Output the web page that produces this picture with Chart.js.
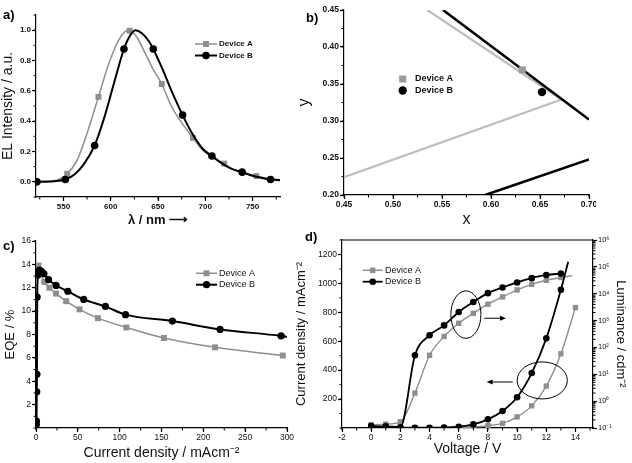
<!DOCTYPE html>
<html>
<head>
<meta charset="utf-8">
<script src="https://cdn.jsdelivr.net/npm/chart.js@4.4.1/dist/chart.umd.min.js"></script>
<style>
  html, body { margin: 0; padding: 0; background: #fff; }
  #fig { position: relative; width: 632px; height: 463px; overflow: hidden; }
  #fig canvas { position: absolute; }
</style>
</head>
<body>
<div id="fig">
  <canvas id="pa" width="316" height="231" style="left:0px;top:0px"></canvas>
  <canvas id="pb" width="306" height="231" style="left:290px;top:0px"></canvas>
  <canvas id="pc" width="316" height="232" style="left:0px;top:231px"></canvas>
  <canvas id="pd" width="342" height="232" style="left:290px;top:231px"></canvas>
</div>
<script>
const names = ['Device A', 'Device B'];

// ---- a) EL spectra: smooth curves + the marked points on them ----
const aTicksX = [550, 600, 650, 700, 750];
const aTicksY = [0, 0.2, 0.4, 0.6, 0.8, 1.0];
const aCurveA_nm = [521, 540, 554, 565, 575, 587, 598, 608, 615, 620, 628, 637, 645, 654, 664, 675, 687, 697, 708, 720, 730, 742, 754, 766, 779];
const aCurveA_I  = [0.003, 0.008, 0.053, 0.15, 0.32, 0.56, 0.78, 0.93, 0.99, 1.0, 0.95, 0.84, 0.74, 0.645, 0.5, 0.39, 0.29, 0.21, 0.16, 0.12, 0.08, 0.055, 0.038, 0.022, 0.015];
const aCurveB_nm = [521, 540, 552, 562, 572, 583, 593, 603, 614, 620, 626, 633, 640, 645, 655, 665, 676, 686, 697, 707, 718, 728, 739, 750, 760, 769, 779];
const aCurveB_I  = [0.0, 0.004, 0.015, 0.05, 0.12, 0.24, 0.42, 0.64, 0.876, 0.96, 1.0, 0.98, 0.93, 0.876, 0.74, 0.59, 0.44, 0.32, 0.22, 0.17, 0.12, 0.085, 0.064, 0.04, 0.025, 0.015, 0.01];
const aDotA_nm = [554, 587, 620, 654, 687, 720, 754];
const aDotA_I  = [0.053, 0.56, 0.996, 0.645, 0.29, 0.12, 0.038];
const aDotB_nm = [522, 552, 583, 614, 645, 676, 707, 739, 769];
const aDotB_I  = [0.0, 0.015, 0.24, 0.876, 0.876, 0.44, 0.17, 0.064, 0.015];

// ---- b) CIE chromaticity detail ----
const bTicksX = [0.45, 0.50, 0.55, 0.60, 0.65, 0.70];
const bTicksY = [0.20, 0.25, 0.30, 0.35, 0.40, 0.45];
const bLocus_x = [0.551, 0.70],  bLocus_y = [0.45, 0.302];
const bPurple_x = [0.594, 0.70], bPurple_y = [0.20, 0.248];
const bGamut_x = [0.535, 0.672, 0.45], bGamut_y = [0.45, 0.329, 0.224];
const bDevA_x = [0.632], bDevA_y = [0.369];
const bDevB_x = [0.652], bDevB_y = [0.339];

// ---- c) EQE vs current density ----
const cTicksX = [0, 50, 100, 150, 200, 250, 300];
const cTicksY = [2, 4, 6, 8, 10, 12, 14, 16];
const cA_J   = [3, 6, 10, 16, 24, 36, 52, 74, 108, 153, 214, 295];
const cA_EQE = [13.9, 13.2, 12.5, 12.0, 11.5, 10.85, 10.15, 9.4, 8.6, 7.7, 6.9, 6.2];
const cB_J   = [0.4, 0.6, 0.9, 1.1, 1.4, 2.5, 4, 6.5, 9.5, 15, 24, 38, 57, 83, 107, 163, 220, 293];
const cB_EQE = [0.3, 0.6, 3.1, 4.6, 11.2, 13.1, 13.5, 13.4, 13.2, 12.7, 12.2, 11.7, 11.0, 10.4, 9.7, 9.15, 8.43, 7.88];
const cB_endJ = [300], cB_endEQE = [7.8];

// ---- d) J-V-L ----
const dTicksX = [-2, 0, 2, 4, 6, 8, 10, 12, 14];
const dTicksJ = [200, 400, 600, 800, 1000, 1200];
const dTicksL = [0.1, 1, 10, 100, 1e3, 1e4, 1e5, 1e6];
const dA_V = [0, 1, 2, 3, 4, 5, 6, 7, 8, 9, 10, 11, 12, 13, 14];
const dA_J = [2, 2, 2, 2, 2, 3, 4, 7, 16, 32, 77, 153, 290, 513, 833];
const dB_V = [0, 1, 2, 3, 4, 5, 6, 7, 8, 9, 10, 11, 12, 13];
const dB_J = [2, 2, 2, 2, 2, 3, 9, 25, 60, 118, 213, 380, 620, 956];
const dB_endV = [13.5], dB_endJ = [1150];
const dA_L = [0.13, 0.14, 0.17, 2.0, 51, 257, 794, 1860, 4070, 7600, 13800, 22400, 31600, 40000];
const dA_endV = [13.8], dA_endL = [47000];
const dB_L = [0.12, 0.115, 0.107, 51, 282, 660, 2090, 4900, 10500, 17000, 26300, 38000, 50000, 56000];

const GREY = '#8e8e8e';
const FONT = "'Liberation Sans', Arial, sans-serif";
const xy = (xs, ys) => xs.map((x, i) => ({ x: x, y: ys[i] }));
const sup = { '-': '⁻', '0': '⁰', '1': '¹', '2': '²', '3': '³', '4': '⁴', '5': '⁵', '6': '⁶', '7': '⁷', '8': '⁸', '9': '⁹' };

function marker(c, style, x, y, r, color) {
    c.fillStyle = color;
    c.beginPath();
    if (style === 'rect') {
        const h = r * Math.SQRT1_2;
        c.rect(x - h, y - h, 2 * h, 2 * h);
    } else {
        c.arc(x, y, r, 0, Math.PI * 2);
    }
    c.fill();
}

// minor ticks, panel letter, legend, ellipses and arrows
const deco = {
    id: 'deco',
    afterDraw(chart, args, o) {
        const c = chart.ctx;
        const area = chart.chartArea;
        c.save();
        c.strokeStyle = '#000';
        c.lineWidth = 1;
        Object.values(chart.scales).forEach(s => {
            const m = s.options.minor;
            if (!m) return;
            const vals = [];
            if (m === 'log') {
                const e0 = Math.round(Math.log10(s.min)), e1 = Math.round(Math.log10(s.max));
                for (let e = e0; e < e1; e++) for (let k = 2; k < 10; k++) vals.push(k * Math.pow(10, e));
            } else {
                for (let n = Math.ceil(s.min / m - 1e-6); n * m <= s.max + 1e-9; n++) vals.push(n * m);
            }
            c.beginPath();
            vals.forEach(v => {
                const p = s.getPixelForValue(v);
                if (s.isHorizontal()) { c.moveTo(p, s.top); c.lineTo(p, s.top + 2.5); }
                else if (s.position === 'left') { c.moveTo(s.right, p); c.lineTo(s.right - 2.5, p); }
                else { c.moveTo(s.left, p); c.lineTo(s.left + 2.5, p); }
            });
            c.stroke();
        });
        if (o.frame) {
            c.lineWidth = 1.2;
            c.beginPath();
            c.moveTo(area.left, area.top);
            c.lineTo(area.right, area.top);
            c.stroke();
        }
        if (o.ann) {
            const sx = chart.scales.x, sy = chart.scales.y;
            c.lineWidth = 1;
            o.ann.ellipses.forEach(e => {
                const cx = sx.getPixelForValue(e[0]), cy = sy.getPixelForValue(e[1]);
                const rx = Math.abs(sx.getPixelForValue(e[0] + e[2]) - cx);
                const ry = Math.abs(sy.getPixelForValue(e[1] + e[3]) - cy);
                c.beginPath();
                c.ellipse(cx, cy, rx, ry, 0, 0, Math.PI * 2);
                c.stroke();
            });
            o.ann.arrows.forEach(a => {
                const x1 = sx.getPixelForValue(a[0]), y1 = sy.getPixelForValue(a[1]);
                const x2 = sx.getPixelForValue(a[2]), y2 = sy.getPixelForValue(a[1]);
                const d = Math.sign(x2 - x1);
                c.beginPath();
                c.moveTo(x1, y1);
                c.lineTo(x2 - d * 4, y2);
                c.stroke();
                c.fillStyle = '#000';
                c.beginPath();
                c.moveTo(x2, y2);
                c.lineTo(x2 - d * 6, y2 - 2.5);
                c.lineTo(x2 - d * 6, y2 + 2.5);
                c.closePath();
                c.fill();
            });
        }
        if (o.letter) {
            c.fillStyle = '#000';
            c.font = 'bold 13px ' + FONT;
            c.textBaseline = 'middle';
            c.textAlign = 'left';
            c.fillText(o.letter[0], o.letter[1], o.letter[2]);
        }
        if (o.legend) {
            const L = o.legend;
            L.items.forEach((it, i) => {
                const y = L.y + i * L.dy;
                if (L.x2 > L.x1) {
                    c.strokeStyle = it.color;
                    c.lineWidth = it.w;
                    c.beginPath();
                    c.moveTo(L.x1, y);
                    c.lineTo(L.x2, y);
                    c.stroke();
                }
                marker(c, it.style, (L.x1 + L.x2) / 2, y, it.r, it.color);
                c.fillStyle = '#111';
                c.font = L.font;
                c.textBaseline = 'middle';
                c.textAlign = 'left';
                c.fillText(it.text, L.tx, y);
            });
        }
        c.restore();
    }
};
Chart.register(deco);

function axis(o) {
    const horiz = o.pos === 'bottom';
    return {
        type: o.log ? 'logarithmic' : 'linear',
        position: o.pos,
        min: o.min,
        max: o.max,
        minor: o.minor,
        border: { display: true, color: '#000', width: 1.2 },
        grid: { display: true, drawOnChartArea: false, drawTicks: true, tickLength: 4, tickColor: '#000', tickWidth: 1.2 },
        ticks: { color: '#111', padding: o.tp == null ? 1 : o.tp, autoSkip: false, maxRotation: 0, font: o.font, callback: o.fmt },
        title: { display: !!o.title, text: o.title, color: '#111', font: o.tfont, padding: o.tpad || 0 },
        afterBuildTicks: s => { s.ticks = o.ticks.map(v => ({ value: v })); },
        afterFit: s => {
            if (horiz) { s.height = o.size; s.paddingLeft = 0; s.paddingRight = 0; }
            else { s.width = o.size; s.paddingTop = 0; s.paddingBottom = 0; }
        }
    };
}

function curve(data, color, w, yAxis) {
    return { data: data, borderColor: color, borderWidth: w, pointRadius: 0, tension: 0.4,
             cubicInterpolationMode: 'monotone', fill: false, yAxisID: yAxis || 'y' };
}
function dots(data, color, style, r, line, w, yAxis, radii) {
    return { data: data, showLine: line, borderColor: color, borderWidth: w || 0, pointStyle: style,
             pointRadius: radii || r, pointBackgroundColor: color, pointBorderWidth: 0,
             tension: 0.4, cubicInterpolationMode: 'monotone', fill: false, yAxisID: yAxis || 'y' };
}

function base(pad, scales, decoOpts) {
    return {
        responsive: false,
        animation: false,
        events: [],
        layout: { padding: pad },
        plugins: { legend: { display: false }, tooltip: { enabled: false }, deco: decoOpts },
        scales: scales
    };
}

const fA = { family: FONT, size: 8, weight: 'bold' };
const fB = { family: FONT, size: 8.5, weight: 'bold' };
const fC = { family: FONT, size: 8.5 };

// a)
new Chart(document.getElementById('pa'), {
    type: 'line',
    data: { datasets: [
        curve(xy(aCurveB_nm, aCurveB_I), '#000', 2),
        dots(xy(aDotB_nm, aDotB_I), '#000', 'circle', 3.8, false),
        curve(xy(aCurveA_nm, aCurveA_I), GREY, 1.5),
        dots(xy(aDotA_nm, aDotA_I), GREY, 'rect', 4.2, false)
    ] },
    options: base({ left: 0, top: 15, right: 36, bottom: 0 }, {
        x: axis({ pos: 'bottom', min: 521, max: 779, ticks: aTicksX, minor: 25, font: fA, size: 34,
                  title: 'λ / nm ⟶', tfont: { family: FONT, size: 13, weight: 'bold' }, tpad: 3 }),
        y: axis({ pos: 'left', min: -0.1, max: 1.1, ticks: aTicksY, minor: 0.1, font: fA, size: 36,
                  fmt: v => v.toFixed(1), title: 'EL Intensity / a.u.', tfont: { family: FONT, size: 14 }, tpad: 0 })
    }, {
        letter: ['a)', 3, 15],
        legend: { x1: 195, x2: 217, tx: 219, y: 44, dy: 11.5, font: 'bold 8px ' + FONT, items: [
            { text: names[0], color: GREY, style: 'rect', r: 4.2, w: 1.5 },
            { text: names[1], color: '#000', style: 'circle', r: 3.8, w: 2 }
        ] }
    })
});

// b)
new Chart(document.getElementById('pb'), {
    type: 'line',
    data: { datasets: [
        dots(xy(bDevB_x, bDevB_y), '#000', 'circle', 4.2, false),
        dots(xy(bDevA_x, bDevA_y), '#9a9a9a', 'rect', 5, false),
        { data: xy(bLocus_x, bLocus_y), borderColor: '#000', borderWidth: 2.6, pointRadius: 0, tension: 0 },
        { data: xy(bPurple_x, bPurple_y), borderColor: '#000', borderWidth: 2.6, pointRadius: 0, tension: 0 },
        { data: xy(bGamut_x, bGamut_y), borderColor: '#bdbdbd', borderWidth: 2.2, pointRadius: 0, tension: 0 }
    ] },
    options: base({ left: 0, top: 10, right: 7, bottom: 0 }, {
        x: axis({ pos: 'bottom', min: 0.45, max: 0.70, ticks: bTicksX, minor: 0.025, font: fB, size: 36,
                  fmt: v => v.toFixed(2), title: 'x', tfont: { family: FONT, size: 16 }, tpad: 1.5 }),
        y: axis({ pos: 'left', min: 0.20, max: 0.45, ticks: bTicksY, minor: 0.025, font: fB, size: 54,
                  fmt: v => v.toFixed(2), title: 'y', tfont: { family: FONT, size: 16 }, tpad: 5 })
    }, {
        letter: ['b)', 16, 18],
        legend: { x1: 112.7, x2: 112.7, tx: 125, y: 79, dy: 11.5, font: 'bold 9px ' + FONT, items: [
            { text: names[0], color: '#9a9a9a', style: 'rect', r: 5, w: 0 },
            { text: names[1], color: '#000', style: 'circle', r: 4.2, w: 0 }
        ] }
    })
});

// c)
const cBdata = xy(cB_J, cB_EQE).concat(xy(cB_endJ, cB_endEQE));
new Chart(document.getElementById('pc'), {
    type: 'line',
    data: { datasets: [
        dots(cBdata, '#000', 'circle', 3.6, true, 2, 'y', cBdata.map((p, i) => i < cB_J.length ? 3.6 : 0)),
        dots(xy(cA_J, cA_EQE), GREY, 'rect', 4.2, true, 1.5)
    ] },
    options: base({ left: 0, top: 10, right: 29, bottom: 0 }, {
        x: axis({ pos: 'bottom', min: 0, max: 300, ticks: cTicksX, minor: 25, font: fC, size: 35,
                  title: 'Current density / mAcm⁻²', tfont: { family: FONT, size: 14 }, tpad: 1.5 }),
        y: axis({ pos: 'left', min: 0, max: 16, ticks: cTicksY, minor: 1, font: fC, size: 36,
                  title: 'EQE / %', tfont: { family: FONT, size: 13 }, tpad: 3 })
    }, {
        letter: ['c)', 3, 15],
        legend: { x1: 196, x2: 217, tx: 219, y: 42.3, dy: 11.4, font: '9px ' + FONT, items: [
            { text: names[0], color: GREY, style: 'rect', r: 4.2, w: 1.5 },
            { text: names[1], color: '#000', style: 'circle', r: 3.6, w: 2 }
        ] }
    })
});

// d)
const dBJdata = xy(dB_V, dB_J).concat(xy(dB_endV, dB_endJ));
const dALdata = xy(dA_V.slice(0, dA_L.length), dA_L).concat(xy(dA_endV, dA_endL));
new Chart(document.getElementById('pd'), {
    type: 'line',
    data: { datasets: [
        dots(xy(dB_V, dB_L), '#000', 'circle', 3.3, true, 1.8, 'yL'),
        dots(dBJdata, '#000', 'circle', 3.3, true, 1.8, 'y', dBJdata.map((p, i) => i < dB_V.length ? 3.3 : 0)),
        dots(dALdata, GREY, 'rect', 3.8, true, 1.4, 'yL', dALdata.map((p, i) => i < dA_L.length ? 3.8 : 0)),
        dots(xy(dA_V, dA_J), GREY, 'rect', 3.8, true, 1.4, 'y')
    ] },
    options: base({ left: 0, top: 9, right: 0, bottom: 0 }, {
        x: axis({ pos: 'bottom', min: -2, max: 15.2, ticks: dTicksX, minor: 1, font: fC, size: 35,
                  title: 'Voltage / V', tfont: { family: FONT, size: 14 }, tpad: 5 }),
        y: axis({ pos: 'left', min: 0, max: 1300, ticks: dTicksJ, minor: 100, font: fC, size: 52,
                  title: 'Current density / mAcm⁻²', tfont: { family: FONT, size: 13 }, tpad: 4 }),
        yL: axis({ pos: 'right', log: true, min: 0.1, max: 1e6, ticks: dTicksL, minor: 'log', font: { family: FONT, size: 7.5 }, size: 39,
                   fmt: v => '10' + String(Math.round(Math.log10(v))).split('').map(ch => sup[ch]).join(''),
                   title: 'Luminance / cdm⁻²', tfont: { family: FONT, size: 13 }, tpad: 4 })
    }, {
        frame: true,
        letter: ['d)', 15, 6],
        ann: {
            ellipses: [[6.49, 784, 1.03, 164], [11.72, 329, 1.72, 128]],
            arrows: [[7.75, 759, 9.24], [9.7, 318, 7.91]]
        },
        legend: { x1: 72.7, x2: 92.7, tx: 95, y: 39.3, dy: 11.4, font: '9px ' + FONT, items: [
            { text: names[0], color: GREY, style: 'rect', r: 3.8, w: 1.4 },
            { text: names[1], color: '#000', style: 'circle', r: 3.3, w: 1.8 }
        ] }
    })
});
</script>
</body>
</html>
